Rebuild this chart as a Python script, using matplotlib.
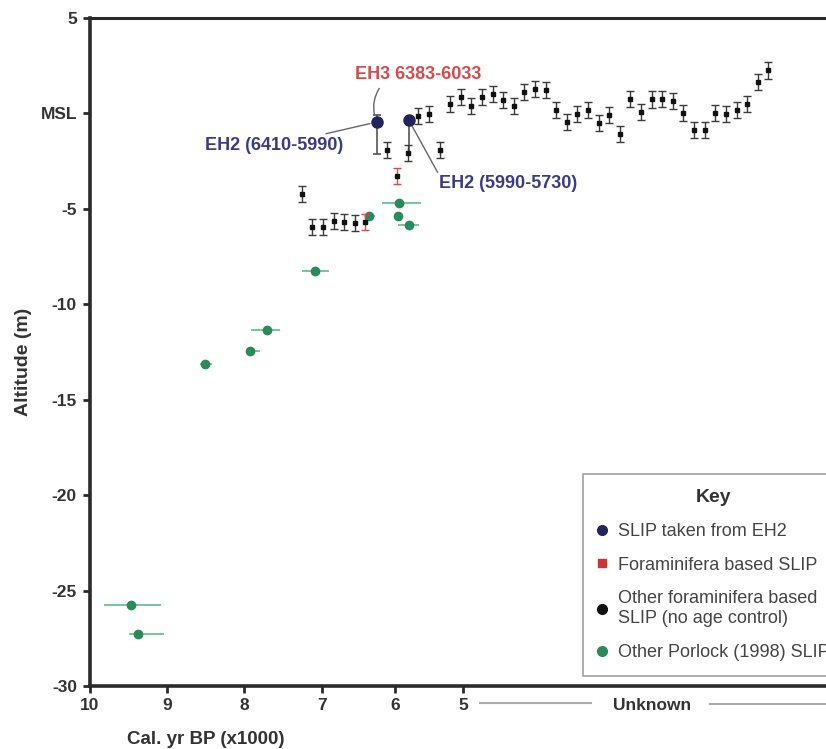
import numpy as np
import matplotlib
matplotlib.use("Agg")
import matplotlib.pyplot as plt
from matplotlib.lines import Line2D

plt.rcParams['font.family'] = ['Liberation Sans', 'DejaVu Sans']

# y axis
y_ticks = [5, 0, -5, -10, -15, -20, -25, -30]
y_labels = ['5', 'MSL', '-5', '-10', '-15', '-20', '-25', '-30']
x_ticks = [10, 9, 8, 7, 6, 5]

# Other Porlock (1998) SLIPs: age (ka), altitude (m), age range
green_age = [9.46, 9.37, 8.51, 7.92, 7.70, 7.09, 6.35, 5.94, 5.96, 5.79]
green_alt = [-25.75, -27.27, -13.15, -12.47, -11.37, -8.26, -5.40, -4.68, -5.35, -5.87]
green_old = [9.81, 9.49, 8.57, 7.97, 7.91, 7.26, 6.41, 6.18, 5.96, 5.96]
green_young = [9.08, 9.04, 8.42, 7.79, 7.54, 6.91, 6.27, 5.62, 5.96, 5.65]

# SLIPs taken from EH2
eh2_age = [6.25, 5.80]
eh2_alt = [-0.45, -0.33]
eh2_low = [-2.10, -2.08]
eh2_high = [-0.10, -0.33]

# foraminifera SLIPs without age control, in sample order
blk_alt = [-4.21, -5.96, -5.96, -5.64, -5.70, -5.73, -5.70, np.nan, -1.94, -3.30,
           -2.08, -0.16, -0.05, -1.94, 0.51, 0.86, 0.38, 0.86, 1.03, 0.68,
           0.37, 1.12, 1.29, 1.21, 0.19, -0.45, -0.02, 0.19, -0.51, -0.07,
           -1.10, 0.77, 0.10, 0.73, 0.77, 0.63, 0.02, -0.86, -0.86, 0.02,
           -0.05, 0.16, 0.51, 1.64, 2.25]
blk_err = 0.42
red_samples = [7, 10]  # foraminifera based SLIPs (red bars)

# layout (pixels in an 826x749 image)
W, H = 826, 749
AX_L, AX_R, AX_T, AX_B = 89.5, 860, 18, 686
ANCH_AGE = np.array([11, 10, 9, 8, 7, 6, 5, -10], float)
ANCH_PX = np.array([12, 89.5, 167, 244, 322, 395, 463, 1483], float)
FIRST_PX, STEP_PX = 301.7, 10.605


def fwd(a):
    return -np.interp(-np.asarray(a, float), -ANCH_AGE, ANCH_PX)


def inv(v):
    return -np.interp(-np.asarray(v, float), ANCH_PX, -ANCH_AGE)


dark = '#2a2a2a'
txt = '#333333'
navy = '#24245c'
navy_txt = '#3b3a88'
red = '#d64a4a'
green = '#2a8a5c'
green_bar = '#6cc093'

fig = plt.figure(figsize=(W / 100, H / 100), dpi=100)
ax = fig.add_axes([AX_L / W, 1 - AX_B / H, (AX_R - AX_L) / W, (AX_B - AX_T) / H])
ax.set_xscale('function', functions=(fwd, inv))

ax2 = ax.twiny()
ax2.set_axis_off()

# green SLIPs
xerr = [np.array(green_age) - np.array(green_young), np.array(green_old) - np.array(green_age)]
ax.errorbar(green_age, green_alt, xerr=xerr, fmt='o', color=green, ms=6,
            ecolor=green_bar, elinewidth=1.3, capsize=0, zorder=3)

# black SLIPs
samples = np.arange(1, len(blk_alt) + 1)
ecols = [red if s in red_samples else '#3a3a3a' for s in samples]
for s, a, c in zip(samples, blk_alt, ecols):
    if np.isnan(a):
        continue
    ax2.errorbar(s, a, yerr=blk_err, fmt='s', color='#111111', ms=3,
                 ecolor=c, elinewidth=1, capsize=3, capthick=1, zorder=4)

# EH2 points
ax.errorbar(eh2_age, eh2_alt,
            yerr=[np.array(eh2_alt) - np.array(eh2_low), np.array(eh2_high) - np.array(eh2_alt)],
            fmt='none', ecolor='#555555', elinewidth=1.2, capsize=0, zorder=4)
ax.plot([eh2_age[0]] * 2, [eh2_low[0], eh2_high[0]], ls='none', marker='_', ms=6,
        mew=1.2, color='#555555', zorder=4)
ax.plot(eh2_age, eh2_alt, 'o', color=navy, ms=8, zorder=5)

ax.set_xlim(10, float(inv(-AX_R)))
ax.set_ylim(-30, 5)
ax2.set_xlim(1 - (FIRST_PX - AX_L) / STEP_PX, 1 + (AX_R - FIRST_PX) / STEP_PX)

# annotations
ax.annotate('EH2 (6410-5990)', xy=(eh2_age[0], eh2_alt[0]), xytext=(-24, -17),
            textcoords='offset points', ha='right', va='center', fontsize=13,
            fontweight='bold', color=navy_txt,
            arrowprops=dict(arrowstyle='-', color='#666666', lw=1, shrinkA=2, shrinkB=5))
ax.annotate('EH2 (5990-5730)', xy=(eh2_age[1], eh2_alt[1]), xytext=(22, -46),
            textcoords='offset points', ha='left', va='center', fontsize=13,
            fontweight='bold', color=navy_txt,
            arrowprops=dict(arrowstyle='-', color='#666666', lw=1, shrinkA=0, shrinkB=5,
                            relpos=(0, 1)))
ax.annotate('EH3 6383-6033', xy=(eh2_age[0], eh2_alt[0]), xytext=(30, 34),
            textcoords='offset points', ha='center', va='center', fontsize=13,
            fontweight='bold', color=red,
            arrowprops=dict(arrowstyle='-', color='#666666', lw=1, shrinkA=2, shrinkB=6,
                            relpos=(0.22, 0), connectionstyle='arc3,rad=0.3'))

# axes styling
ax.set_xticks(x_ticks)
ax.set_xticklabels([str(t) for t in x_ticks])
ax.xaxis.set_minor_locator(matplotlib.ticker.NullLocator())
ax.set_yticks(y_ticks)
ax.set_yticklabels(y_labels)
ax.tick_params(direction='out', length=5, width=2, color=dark, labelcolor=txt,
               labelsize=12.5, pad=4)
for lab in ax.get_xticklabels() + ax.get_yticklabels():
    lab.set_fontweight('bold')
ax.spines['right'].set_visible(False)
ax.spines['left'].set_linewidth(2.6)
ax.spines['bottom'].set_linewidth(2.6)
ax.spines['top'].set_linewidth(2.2)
for sp in ax.spines.values():
    sp.set_color(dark)

fig.text(205.5 / W, 1 - 739 / H, 'Cal. yr BP (x1000)', ha='center', va='center',
         fontsize=13.5, fontweight='bold', color=txt)
fig.text(23.5 / W, 1 - 362 / H, 'Altitude (m)', ha='center', va='center', rotation=90,
         fontsize=14, fontweight='bold', color=txt)

# unknown age region
fig.text(652 / W, 1 - 706 / H, 'Unknown', ha='center', va='center', fontsize=12.5,
         fontweight='bold', color=txt)
fig.add_artist(Line2D([480 / W, 591 / W], [1 - 703 / H] * 2, color='#aaaaaa', lw=1.5))
fig.add_artist(Line2D([710 / W, 1.0], [1 - 704 / H] * 2, color='#aaaaaa', lw=1.5))

# key
handles = [
    Line2D([], [], ls='none', marker='o', ms=7, color=navy),
    Line2D([], [], ls='none', marker='s', ms=6, color='#cc3333'),
    Line2D([], [], ls='none', marker='o', ms=7, color='#111111'),
    Line2D([], [], ls='none', marker='o', ms=7, color=green),
]
labels = ['SLIP taken from EH2', 'Foraminifera based SLIP',
          'Other foraminifera based\nSLIP (no age control)', 'Other Porlock (1998) SLIP']
leg = fig.legend(handles, labels, title='Key', loc='upper left',
                 bbox_to_anchor=(583 / W, 1 - 474 / H), bbox_transform=fig.transFigure,
                 fontsize=13, title_fontproperties={'weight': 'bold', 'size': 14},
                 frameon=True, fancybox=False, borderaxespad=0, borderpad=0.85,
                 handlelength=0.4, handletextpad=0.69, labelspacing=0.92)
leg.get_frame().set_edgecolor('#888888')
leg.get_frame().set_linewidth(1.2)
leg.get_title().set_color(txt)
for t in leg.get_texts():
    t.set_color('#444444')
    t.set_linespacing(1.25)

fig.savefig('out.png', dpi=100)
